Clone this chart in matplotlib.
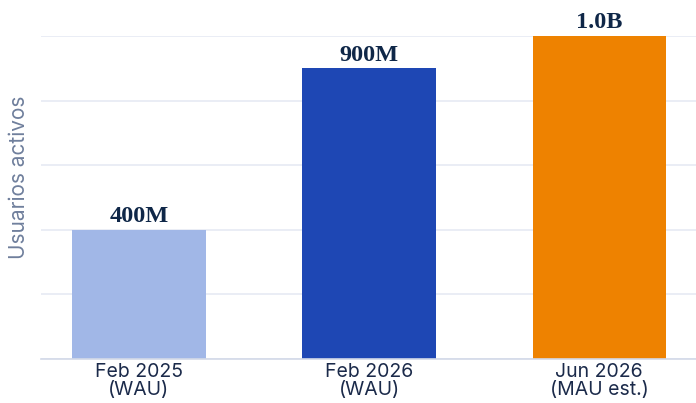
import matplotlib
matplotlib.use("Agg")
import matplotlib.pyplot as plt

categories = ["Feb 2025\n(WAU)", "Feb 2026\n(WAU)", "Jun 2026\n(MAU est.)"]
values = [400, 900, 1000]  # millions
value_labels = ["400M", "900M", "1.0B"]
colors = ["#a1b7e7", "#1e47b4", "#ee8200"]
grid_ticks = [0, 200, 400, 600, 800, 1000]

fig = plt.figure(figsize=(6.96, 4.03), dpi=100)
ax = fig.add_axes([41/696, 1 - 359/403, (696-41)/696, (359-36)/403])

x = list(range(len(categories)))
ax.bar(x, values, width=0.58, color=colors, zorder=3)
ax.set_xlim(-0.425, 2.42)
ax.set_ylim(0, 1000)
ax.set_yticks(grid_ticks)
ax.set_yticklabels([])
ax.tick_params(axis="y", length=0)
ax.grid(axis="y", color="#e6eaf4", linewidth=1.2, zorder=0)
for s in ["top", "right", "left"]:
    ax.spines[s].set_visible(False)
ax.spines["bottom"].set_color("#d3d9e8")
ax.spines["bottom"].set_linewidth(1.2)
ax.spines["bottom"].set_zorder(4)

ax.set_xticks(x)
ax.set_xticklabels(categories, fontsize=14, color="#1b2a4a", family="Inter", linespacing=0.98)
ax.tick_params(axis="x", length=0, pad=3)

for xi, v, lab in zip(x, values, value_labels):
    ax.annotate(lab, (xi, v), xytext=(0, 2), textcoords="offset points",
                ha="center", va="bottom", fontsize=17.5, fontweight="bold",
                family="Liberation Serif", color="#0f2748", clip_on=False, zorder=5)

fig.text(19/696, 1 - 177/403, "Usuarios activos", rotation=90, ha="center", va="center",
         fontsize=15, color="#6f7f9c", family="Inter")

fig.savefig("out.png", dpi=100)
